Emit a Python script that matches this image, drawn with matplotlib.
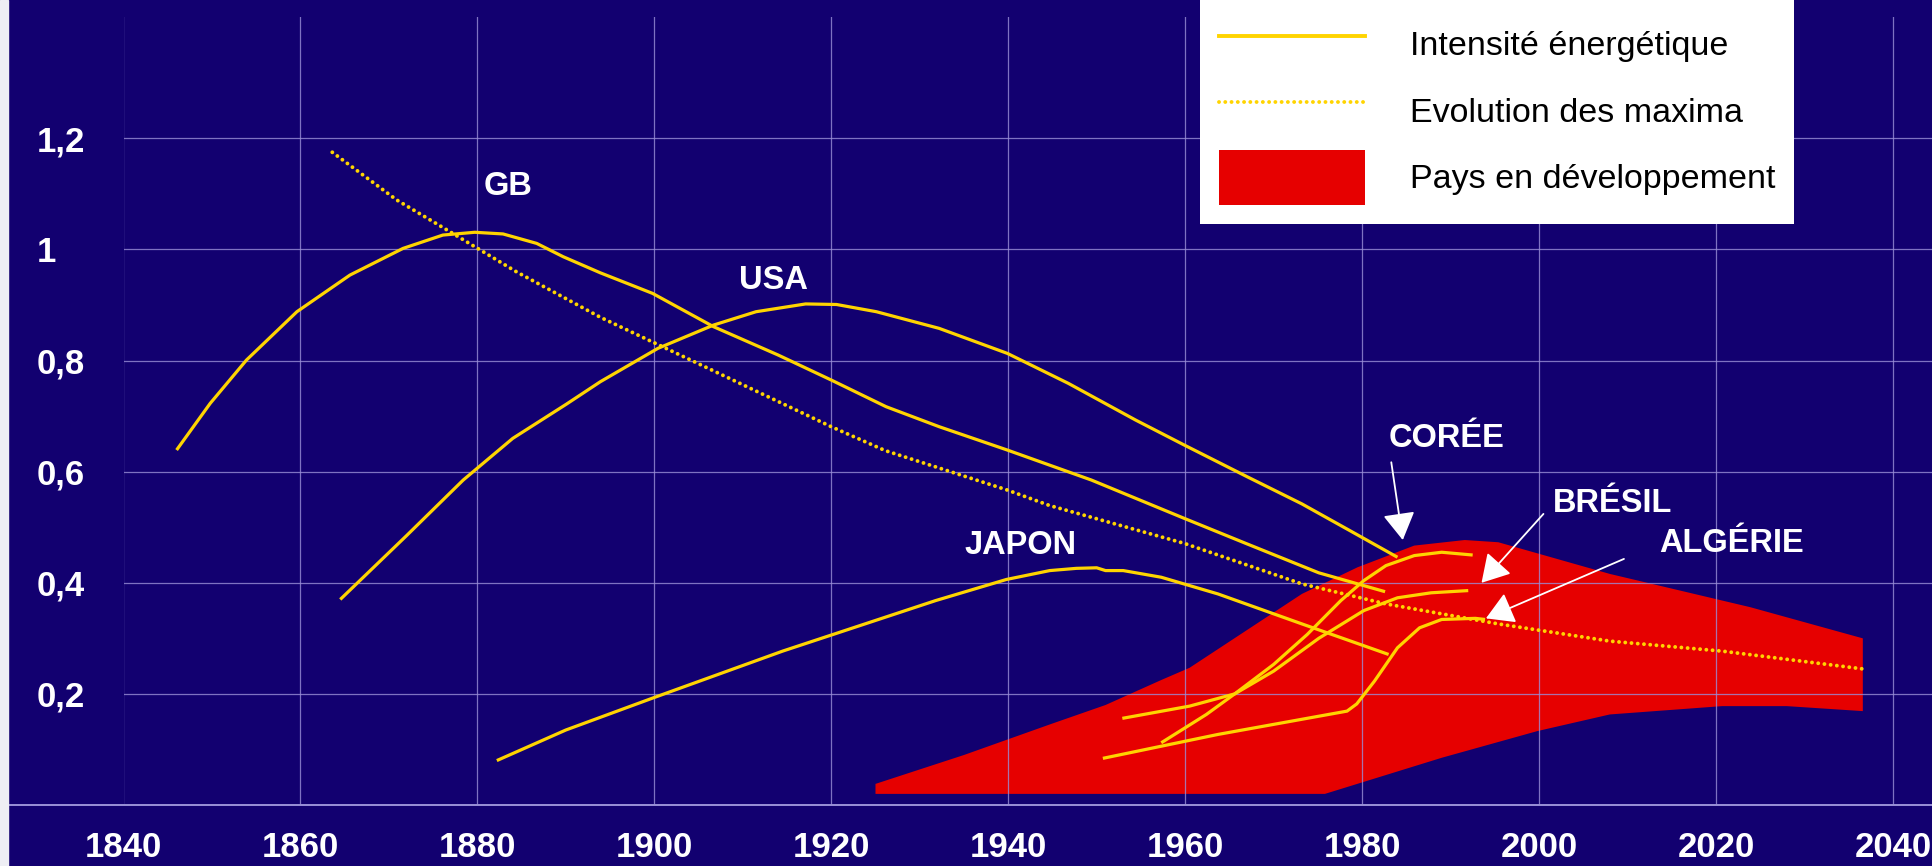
import matplotlib
matplotlib.use("Agg")
import matplotlib.pyplot as plt
from matplotlib.lines import Line2D
from matplotlib.patches import Patch, Rectangle

plt.rcParams['font.family'] = ['Liberation Sans', 'DejaVu Sans']

# --- data ---
gb_years = [1846, 1849.8, 1853.9, 1859.6, 1865.6, 1871.6, 1876.1, 1879.7, 1882.9, 1886.7,
            1889.7, 1893.9, 1899.8, 1906.7, 1914, 1920, 1926.2, 1932.2, 1939.9, 1949.4,
            1959.9, 1967, 1975.1, 1982.6]
gb_vals = [0.639, 0.723, 0.801, 0.888, 0.954, 1.002, 1.026, 1.031, 1.028, 1.011,
           0.987, 0.958, 0.921, 0.861, 0.81, 0.765, 0.717, 0.681, 0.639, 0.585,
           0.516, 0.47, 0.418, 0.384]

usa_years = [1864.5, 1872, 1878.4, 1884, 1890.1, 1893.9, 1900.4, 1906.7, 1911.5, 1917.1,
             1920.6, 1925.1, 1932.2, 1939.9, 1946.8, 1954.4, 1959.9, 1967, 1973.2, 1978.5, 1984]
usa_vals = [0.37, 0.485, 0.585, 0.66, 0.722, 0.762, 0.822, 0.864, 0.888, 0.902,
            0.901, 0.888, 0.858, 0.813, 0.759, 0.693, 0.648, 0.591, 0.542, 0.495, 0.446]

japon_years = [1882.2, 1890, 1899.9, 1914.5, 1931.8, 1939.8, 1944.7, 1947.7, 1950, 1951,
               1953, 1957.3, 1963.7, 1973.2, 1983]
japon_vals = [0.08, 0.135, 0.193, 0.277, 0.368, 0.406, 0.422, 0.426, 0.427, 0.422,
              0.422, 0.41, 0.38, 0.326, 0.271]

coree_years = [1957.3, 1962.4, 1965.6, 1970, 1973.8, 1977.6, 1980.2, 1982.7, 1985.9, 1989, 1992.5]
coree_vals = [0.112, 0.163, 0.2, 0.253, 0.307, 0.368, 0.404, 0.431, 0.449, 0.455, 0.45]

bresil_years = [1952.9, 1960.5, 1965.6, 1970, 1975.1, 1980.2, 1984, 1987.8, 1992]
bresil_vals = [0.156, 0.178, 0.2, 0.241, 0.30, 0.35, 0.373, 0.382, 0.386]

algerie_years = [1950.7, 1963.7, 1978.3, 1979.4, 1981.4, 1984, 1986.5, 1989, 1992.8, 1993.9]
algerie_vals = [0.084, 0.127, 0.169, 0.182, 0.223, 0.283, 0.319, 0.334, 0.336, 0.334]

maxima_years = [1863.6, 1867, 1870.9, 1876.9, 1884.4, 1893.9, 1906.5, 1920, 1926.1, 1939.9,
                1944.7, 1959.9, 1973.2, 1982.7, 1995.4, 2008, 2020.7, 2036.6]
maxima_vals = [1.175, 1.135, 1.089, 1.032, 0.96, 0.878, 0.783, 0.681, 0.638, 0.567,
               0.539, 0.471, 0.398, 0.362, 0.326, 0.295, 0.277, 0.245]

# developing countries band (upper edge left->right, lower edge right->left)
dev_upper_years = [1925, 1935, 1944.7, 1951, 1957.3, 1960.5, 1966.9, 1973.2, 1979.5, 1985.9,
                   1991.6, 1995.4, 2008, 2023.9, 2036.6]
dev_upper_vals = [0.038, 0.09, 0.145, 0.18, 0.225, 0.247, 0.314, 0.38, 0.428, 0.467,
                  0.477, 0.473, 0.416, 0.356, 0.30]
dev_lower_years = [2036.6, 2028, 2020.7, 2008, 1999.8, 1989, 1975.8, 1925]
dev_lower_vals = [0.169, 0.178, 0.178, 0.163, 0.133, 0.085, 0.02, 0.02]

x_ticks = [1840, 1860, 1880, 1900, 1920, 1940, 1960, 1980, 2000, 2020, 2040]
y_ticks = [0.2, 0.4, 0.6, 0.8, 1.0, 1.2]
y_labels = ['0,2', '0,4', '0,6', '0,8', '1', '1,2']

# country labels: (text, x, y) and arrows (tail x, tail y, tip x, tip y)
labels = [('GB', 1883.5, 1.114), ('USA', 1913.5, 0.945), ('JAPON', 1941.4, 0.468),
          ('CORÉE', 1989.5, 0.660), ('BRÉSIL', 2008.3, 0.542), ('ALGÉRIE', 2021.8, 0.470)]
arrows = [(1983.3, 0.617, 1984.6, 0.477), (2000.5, 0.524, 1993.5, 0.40),
          (2009.6, 0.443, 1994.0, 0.336)]

bg = '#120070'
yellow = '#FFD400'
red = '#E60000'
grid_col = '#9A90D8'

W, H = 1932, 866
fig = plt.figure(figsize=(W / 100, H / 100), dpi=100, facecolor=bg)
left_px, right_px, top_px, zero_px = 123.5, 1932, 17, 805
ax = fig.add_axes([left_px / W, (H - zero_px) / H, (right_px - left_px) / W, (zero_px - top_px) / H])
ax.set_facecolor(bg)

ax.fill(dev_upper_years + dev_lower_years, dev_upper_vals + dev_lower_vals,
        color=red, lw=0, zorder=1)

for yrs, vals in [(gb_years, gb_vals), (usa_years, usa_vals), (japon_years, japon_vals),
                  (coree_years, coree_vals), (bresil_years, bresil_vals),
                  (algerie_years, algerie_vals)]:
    ax.plot(yrs, vals, color=yellow, lw=2.3, solid_capstyle='butt',
            solid_joinstyle='round', zorder=3)

# dotted line of the successive maxima
ax.plot(maxima_years, maxima_vals, color=yellow, lw=2.8, dashes=(0.01, 1.6),
        dash_capstyle='round', zorder=3)

for txt, x, y in labels:
    ax.text(x, y, txt, color='white', fontsize=23.5, fontweight='bold',
            ha='center', va='center', zorder=5)

for x0, y0, x1, y1 in arrows:
    ax.annotate('', xy=(x1, y1), xytext=(x0, y0),
                arrowprops=dict(arrowstyle='-|>,head_length=0.85,head_width=0.5',
                                color='white', lw=1.3, mutation_scale=20,
                                shrinkA=0, shrinkB=0), zorder=5)

ax.set_xlim(1840, 1840 + (right_px - left_px) / 8.847)
ax.set_ylim(0, (zero_px - top_px) / 555.5)
ax.set_xticks(x_ticks)
ax.set_yticks(y_ticks)
ax.set_yticklabels(y_labels)
ax.grid(True, color=grid_col, lw=0.9, alpha=0.8)
ax.set_axisbelow(False)
for s in ax.spines.values():
    s.set_visible(False)
ax.axhline(0, xmin=-(left_px - 8) / (right_px - left_px), xmax=1, color=grid_col,
           lw=1.4, clip_on=False, zorder=4)

ax.tick_params(axis='x', length=0, pad=19, labelsize=25, labelcolor='white')
ax.tick_params(axis='y', length=0, pad=(left_px - 37) / 1.389, labelsize=25, labelcolor='white')
for lab in ax.get_xticklabels() + ax.get_yticklabels():
    lab.set_fontweight('bold')
for lab in ax.get_yticklabels():
    lab.set_ha('left')

# thin light border on the far left
fig.patches.append(Rectangle((0, 0), 8 / W, 1, transform=fig.transFigure,
                             color='#EEEEF4', zorder=0))

handles = [Line2D([], [], color=yellow, lw=2.8),
           Line2D([], [], color=yellow, lw=2.8, dashes=(0.01, 1.6), dash_capstyle='round'),
           Patch(facecolor=red, edgecolor='none')]
leg = fig.legend(handles, ['Intensité énergétique', 'Evolution des maxima', 'Pays en développement'],
                 loc='upper left', bbox_to_anchor=(1200 / W, 1.0 + 2 / H), fontsize=24.5,
                 frameon=True, fancybox=False, framealpha=1, facecolor='white',
                 edgecolor='white', borderpad=0.55, handlelength=4.3, handleheight=2.1,
                 handletextpad=1.32, labelspacing=0.35, borderaxespad=0)
leg.get_frame().set_linewidth(0)

fig.savefig('out.png', dpi=100, facecolor=bg)
